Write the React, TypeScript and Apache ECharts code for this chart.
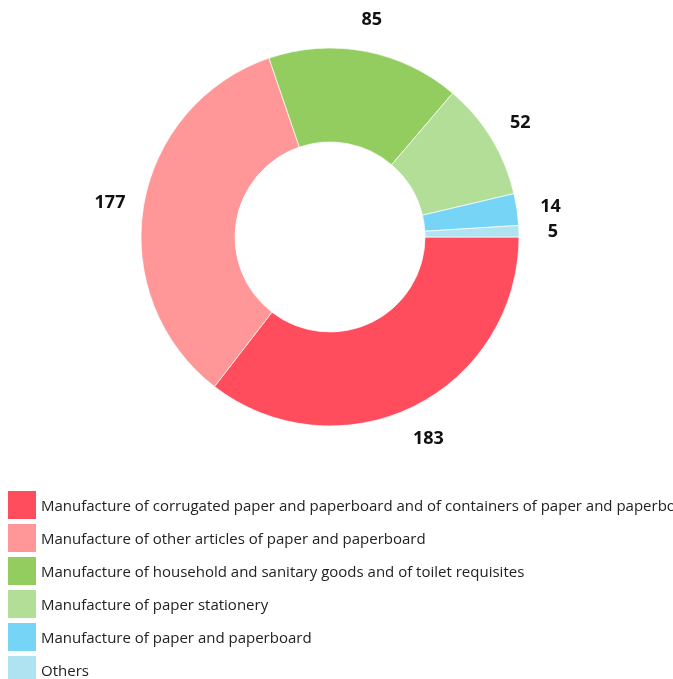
import React, { useEffect, useRef } from "react";
import * as echarts from "echarts";

const categories = [
  "Manufacture of corrugated paper and paperboard and of containers of paper and paperboard",
  "Manufacture of other articles of paper and paperboard",
  "Manufacture of household and sanitary goods and of toilet requisites",
  "Manufacture of paper stationery",
  "Manufacture of paper and paperboard",
  "Others",
];
const values = [183, 177, 85, 52, 14, 5];
const colors = ["#FF4D5E", "#FF9698", "#93CD60", "#B2DE98", "#76D4F7", "#B0E3F2"];

export default function App() {
  const ref = useRef<HTMLDivElement>(null);
  useEffect(() => {
    if (!ref.current) return;
    const chart = echarts.init(ref.current, undefined, { renderer: "svg" });
    const data = categories.map((name, i) => ({
      name,
      value: values[i],
      itemStyle: { color: colors[i] },
    }));
    chart.setOption({
      animation: false,
      legend: {
        orient: "vertical",
        left: 8,
        top: 491,
        height: 230,
        padding: 0,
        itemWidth: 28,
        itemHeight: 28,
        itemGap: 5,
        icon: "rect",
        selectedMode: false,
        itemStyle: { borderWidth: 0 },
        textStyle: {
          fontSize: 15,
          color: "#222",
          fontFamily: "Open Sans",
        },
        data: categories,
      },
      series: [
        {
          type: "pie",
          center: [330, 237],
          radius: [95, 189],
          startAngle: 0,
          clockwise: true,
          avoidLabelOverlap: false,
          data,
          itemStyle: { borderColor: "#fff", borderWidth: 0.7 },
          label: { show: false },
          labelLine: { show: false },
          silent: true,
        },
        {
          type: "pie",
          center: [330, 237],
          radius: [218, 222],
          startAngle: 0,
          clockwise: true,
          avoidLabelOverlap: false,
          silent: true,
          legendHoverLink: false,
          data: categories.map((name, i) => ({
            name,
            value: values[i],
            itemStyle: { color: "transparent" },
          })),
          label: {
            show: true,
            position: "inside",
            formatter: "{c}",
            fontSize: 18,
            fontWeight: "bold",
            color: "#111",
            fontFamily: "Open Sans",
          },
          labelLine: { show: false },
        },
      ],
    });
    return () => chart.dispose();
  }, []);
  return (
    <div
      ref={ref}
      style={{ position: "fixed", left: 0, top: 0, width: 673, height: 679 }}
    />
  );
}
